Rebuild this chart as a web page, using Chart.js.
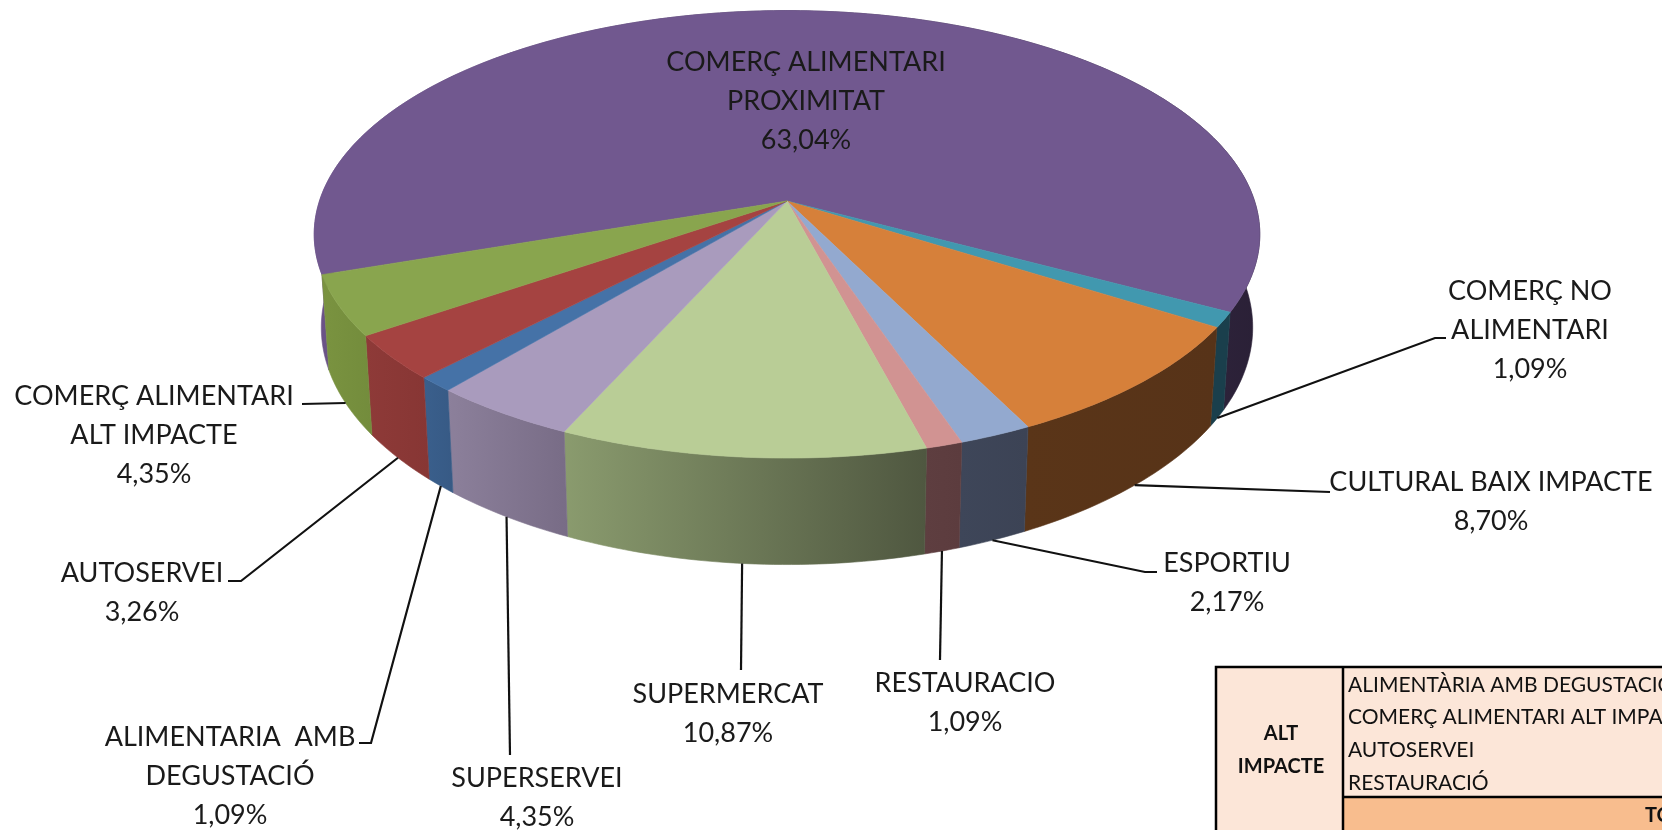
<!DOCTYPE html>
<html>
<head>
<meta charset="utf-8">
<style>
  html, body { margin: 0; padding: 0; background: #fff; overflow: hidden; }
  canvas { display: block; }
</style>
<script src="https://cdn.jsdelivr.net/npm/chart.js@4/dist/chart.umd.min.js"></script>
</head>
<body>
<canvas id="pieChart" width="1662" height="830"></canvas>
<script>
// data
const categories = [
  'COMERÇ ALIMENTARI PROXIMITAT', 'COMERÇ NO ALIMENTARI', 'CULTURAL BAIX IMPACTE', 'ESPORTIU',
  'RESTAURACIO', 'SUPERMERCAT', 'SUPERSERVEI', 'ALIMENTARIA AMB DEGUSTACIÓ', 'AUTOSERVEI',
  'COMERÇ ALIMENTARI ALT IMPACTE'
];
const shares = [63.04, 1.09, 8.70, 2.17, 1.09, 10.87, 4.35, 1.09, 3.26, 4.35];
const labelLines = [
  ['COMERÇ ALIMENTARI', 'PROXIMITAT'], ['COMERÇ NO', 'ALIMENTARI'], ['CULTURAL BAIX IMPACTE'], ['ESPORTIU'],
  ['RESTAURACIO'], ['SUPERMERCAT'], ['SUPERSERVEI'], ['ALIMENTARIA  AMB', 'DEGUSTACIÓ'], ['AUTOSERVEI'],
  ['COMERÇ ALIMENTARI', 'ALT IMPACTE']
];
const tableGroup = ['ALT', 'IMPACTE'];
const tableRows = ['ALIMENTÀRIA AMB DEGUSTACIÓ', 'COMERÇ ALIMENTARI ALT IMPACTE', 'AUTOSERVEI', 'RESTAURACIÓ'];
const tableTotal = 'TOTAL';

// colours
const faceColors = ['#71588f', '#4198af', '#d6803a', '#93a9cf', '#d19392', '#b9cd96', '#a99bbd', '#4572a7', '#a54341', '#89a54e'];
const wallLeft = ['#6b5388', '#1a3f4c', '#5a3518', '#3e4659', '#5e3e40', '#8a9b6e', '#8c809b', '#3a5f8c', '#8e3a38', '#7a9340'];
const wallRight = ['#2a2036', '#1a3f4c', '#573318', '#3c4355', '#5c3c3e', '#4f5740', '#786c86', '#375a85', '#873634', '#738c3c'];

// label placement: centre x, first line centre y
const labelPos = [
  [806, 62], [1530, 291], [1491, 482], [1227, 563], [965, 683],
  [728, 694], [537, 778], [230, 737], [142, 573], [154, 396]
];
// leader lines from the slice out to these points
const leaderEnds = [
  null,
  [[1435, 338], [1446, 338]],
  [[1330, 492]],
  [[1145, 572], [1157, 572]],
  [[940, 660]],
  [[741, 670]],
  [[510, 755]],
  [[371, 743], [359, 743]],
  [[241, 581], [228, 581]],
  [[302, 404]]
];

const LINE_H = 39;
const FONT = 'Lato, Carlito, sans-serif';

// perspective of the tilted disc, relative to the pie radius
const persp = { a: 2.326, b: 1.0884, k: 0.149, shrink: 0.985, stretch: 1.06, depth: 0.453 };

function topPoint(el, angle) {
  const u = Math.cos(angle), v = Math.sin(angle);
  const w = 1 - persp.k * v;
  const r = el.outerRadius;
  return { x: el.x + persp.a * r * u / w, y: el.y + persp.b * r * v / w };
}

function bottomPoint(el, angle) {
  const p = topPoint(el, angle);
  return {
    x: el.x + (p.x - el.x) * persp.shrink,
    y: el.y + (p.y - el.y) * persp.stretch + persp.depth * el.outerRadius
  };
}

function arcSamples(el, fn) {
  const pts = [];
  const steps = Math.max(4, Math.ceil((el.endAngle - el.startAngle) * 60));
  for (let s = 0; s <= steps; s++) {
    pts.push(fn(el, el.startAngle + (el.endAngle - el.startAngle) * s / steps));
  }
  return pts;
}

function fillPoly(ctx, pts, color) {
  ctx.beginPath();
  pts.forEach((p, i) => i ? ctx.lineTo(p.x, p.y) : ctx.moveTo(p.x, p.y));
  ctx.closePath();
  ctx.fillStyle = color;
  ctx.strokeStyle = color;
  ctx.lineWidth = 0.6;
  ctx.fill();
  ctx.stroke();
}

const disc3d = {
  id: 'disc3d',
  // the library worked out the slice angles, this draws them tilted
  beforeDatasetsDraw(chart) {
    const ctx = chart.ctx;
    const arcs = chart.getDatasetMeta(0).data;

    arcs.forEach((el, i) => {
      const top = arcSamples(el, topPoint);
      const bottom = arcSamples(el, bottomPoint).reverse();
      const xs = top.concat(bottom).map(p => p.x);
      const grad = ctx.createLinearGradient(Math.min(...xs), 0, Math.max(...xs), 0);
      grad.addColorStop(0, wallLeft[i]);
      grad.addColorStop(1, wallRight[i]);
      fillPoly(ctx, top.concat(bottom), grad);
    });

    arcs.forEach((el, i) => {
      fillPoly(ctx, [{ x: el.x, y: el.y }].concat(arcSamples(el, topPoint)), faceColors[i]);
    });
    return false;
  },
  afterDraw(chart) {
    const ctx = chart.ctx;
    const arcs = chart.getDatasetMeta(0).data;
    ctx.save();

    // leader lines
    ctx.strokeStyle = '#111';
    ctx.lineWidth = 2.2;
    arcs.forEach((el, i) => {
      if (!leaderEnds[i]) return;
      const start = bottomPoint(el, (el.startAngle + el.endAngle) / 2);
      ctx.beginPath();
      ctx.moveTo(start.x, start.y);
      leaderEnds[i].forEach(p => ctx.lineTo(p[0], p[1]));
      ctx.stroke();
    });

    // labels
    ctx.fillStyle = '#1a1a1a';
    ctx.font = '27px ' + FONT;
    ctx.textAlign = 'center';
    ctx.textBaseline = 'middle';
    categories.forEach((c, i) => {
      const lines = labelLines[i].concat(shares[i].toFixed(2).replace('.', ',') + '%');
      lines.forEach((t, n) => ctx.fillText(t, labelPos[i][0], labelPos[i][1] + n * LINE_H));
    });

    // table, cut by the right edge of the picture
    ctx.fillStyle = '#fce6d8';
    ctx.fillRect(1216, 667, 446, 163);
    ctx.fillStyle = '#f8bd8e';
    ctx.fillRect(1344, 798, 318, 32);
    ctx.strokeStyle = '#000';
    ctx.lineWidth = 2.5;
    ctx.beginPath();
    ctx.moveTo(1216, 830); ctx.lineTo(1216, 667); ctx.lineTo(1662, 667);
    ctx.moveTo(1343, 667); ctx.lineTo(1343, 830);
    ctx.moveTo(1343, 797); ctx.lineTo(1662, 797);
    ctx.stroke();

    ctx.fillStyle = '#111';
    ctx.font = 'bold 20px ' + FONT;
    tableGroup.forEach((t, n) => ctx.fillText(t, 1281, 734 + n * 33));
    ctx.textAlign = 'left';
    ctx.fillText(tableTotal, 1645, 816);
    ctx.font = '21px ' + FONT;
    tableRows.forEach((t, n) => ctx.fillText(t, 1348, 685 + n * 32.6));
    ctx.restore();
  }
};

new Chart(document.getElementById('pieChart'), {
  type: 'pie',
  data: {
    labels: categories,
    datasets: [{ data: shares, backgroundColor: faceColors, borderWidth: 0 }]
  },
  options: {
    responsive: false,
    animation: false,
    rotation: 251.3,
    // keeps the pie centre on the apex of the tilted disc
    layout: { padding: { left: 0, right: 88, top: 0, bottom: 428 } },
    plugins: { legend: { display: false }, tooltip: { enabled: false } }
  },
  plugins: [disc3d]
});
</script>
</body>
</html>
